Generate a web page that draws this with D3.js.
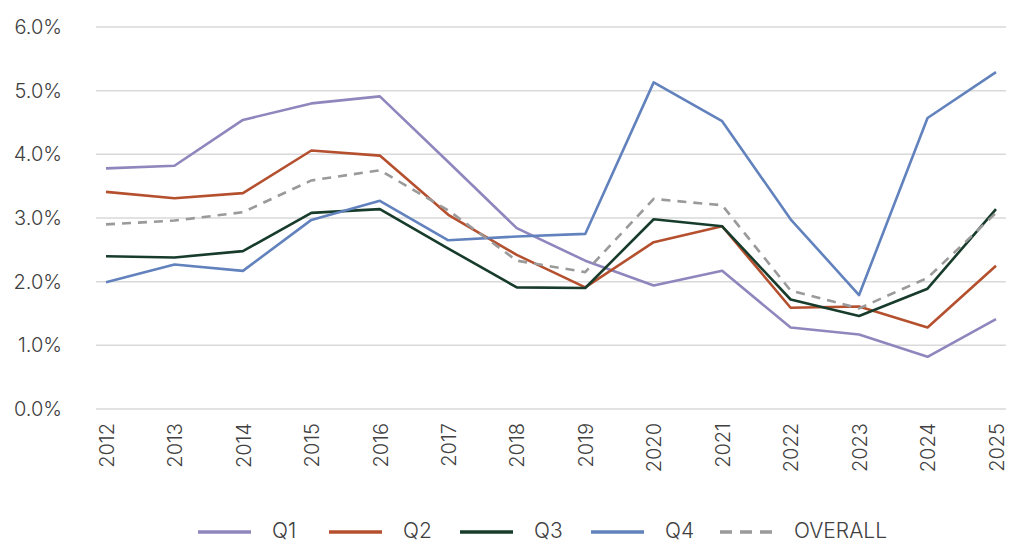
<!DOCTYPE html>
<html>
<head>
<meta charset="utf-8">
<script src="https://cdn.jsdelivr.net/npm/d3@7"></script>
<style>
  body { margin: 0; background: #fff; }
  text { font-family: Inter, "Noto Sans", sans-serif; font-weight: 300; fill: #404040; }
</style>
</head>
<body>
<div id="chart"></div>
<script>
// Data
var years = ["2012","2013","2014","2015","2016","2017","2018","2019","2020","2021","2022","2023","2024","2025"];
var q1 = [3.78, 3.82, 4.54, 4.80, 4.91, 3.88, 2.84, 2.33, 1.94, 2.17, 1.28, 1.17, 0.82, 1.41];
var q2 = [3.41, 3.31, 3.39, 4.06, 3.98, 3.05, 2.42, 1.91, 2.62, 2.87, 1.59, 1.61, 1.28, 2.25];
var q3 = [2.40, 2.38, 2.48, 3.08, 3.14, 2.52, 1.91, 1.90, 2.98, 2.87, 1.72, 1.46, 1.89, 3.14];
var q4 = [1.99, 2.27, 2.17, 2.97, 3.27, 2.65, 2.71, 2.75, 5.13, 4.52, 2.98, 1.79, 4.57, 5.29];
var overall = [2.90, 2.96, 3.09, 3.59, 3.75, 3.12, 2.33, 2.15, 3.30, 3.20, 1.86, 1.58, 2.06, 3.08];
var yTicks = [0, 1, 2, 3, 4, 5, 6];

var seriesNames = ["Q1", "Q2", "Q3", "Q4", "OVERALL"];
var seriesValues = [q1, q2, q3, q4, overall];
var colors = ["#8f86bd", "#b5502f", "#173c2b", "#6282bd", "#9a9a9a"];

var svgWidth = 1024;
var svgHeight = 555;

var svg = d3.select("#chart")
    .append("svg")
    .attr("width", svgWidth)
    .attr("height", svgHeight);

var x = d3.scalePoint()
    .domain(years)
    .range([106, 996]);

var y = d3.scaleLinear()
    .domain([0, 6])
    .range([409, 27]);

// gridlines
svg.append("g")
    .selectAll("line")
    .data(yTicks)
    .enter()
    .append("line")
    .attr("x1", 96)
    .attr("x2", 1006)
    .attr("y1", d => y(d))
    .attr("y2", d => y(d))
    .attr("stroke", "#d9d9d9")
    .attr("stroke-width", 1.5);

// y axis labels
var leftAxis = d3.axisLeft(y)
    .tickValues(yTicks)
    .tickFormat(d => d.toFixed(1) + "%")
    .tickSize(0)
    .tickPadding(0);

svg.append("g")
    .attr("transform", "translate(62, 0)")
    .call(leftAxis)
    .call(g => g.select(".domain").remove())
    .selectAll("text")
    .attr("font-size", "20px")
    .attr("font-family", null)
    .attr("fill", "#404040");

// x axis labels
var bottomAxis = d3.axisBottom(x)
    .tickSize(0)
    .tickPadding(0);

svg.append("g")
    .attr("transform", "translate(0, 409)")
    .call(bottomAxis)
    .call(g => g.select(".domain").remove())
    .selectAll("text")
    .attr("font-size", "20px")
    .attr("font-family", null)
    .attr("fill", "#404040")
    .attr("text-anchor", "end")
    .attr("transform", "rotate(-90)")
    .attr("x", -14)
    .attr("y", 0)
    .attr("dy", "0.36em");

// lines
var line = d3.line()
    .x((d, i) => x(years[i]))
    .y(d => y(d));

svg.append("g")
    .selectAll("path")
    .data(seriesValues)
    .enter()
    .append("path")
    .attr("d", d => line(d))
    .attr("fill", "none")
    .attr("stroke", (d, i) => colors[i])
    .attr("stroke-width", 2.6)
    .attr("stroke-linejoin", "round")
    .attr("stroke-dasharray", (d, i) => seriesNames[i] === "OVERALL" ? "9,7" : null);

// legend
var legendX = [198, 329, 460, 591, 720];
var legend = svg.append("g")
    .selectAll("g")
    .data(seriesNames)
    .enter()
    .append("g")
    .attr("transform", (d, i) => `translate(${legendX[i]}, 532)`);

legend.append("line")
    .attr("x1", 0)
    .attr("x2", 53)
    .attr("stroke", (d, i) => colors[i])
    .attr("stroke-width", 3.5)
    .attr("stroke-dasharray", d => d === "OVERALL" ? "12,8" : null);

legend.append("text")
    .attr("x", 74)
    .attr("y", -2)
    .attr("dy", "0.36em")
    .attr("font-size", "21px")
    .text(d => d);
</script>
</body>
</html>
